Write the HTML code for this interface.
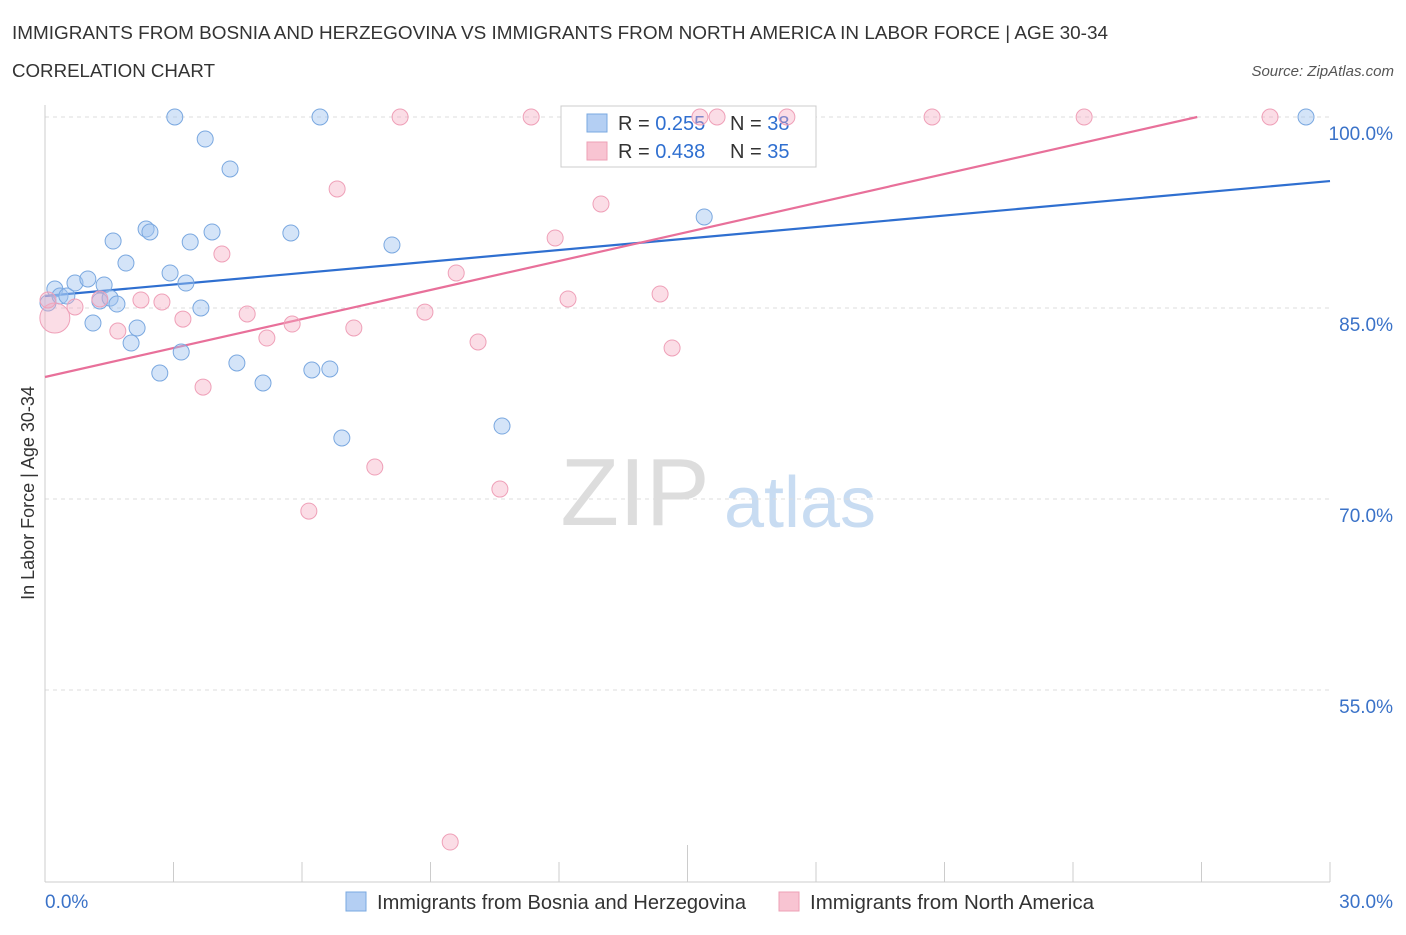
<!DOCTYPE html>
<html><head><meta charset="utf-8"><style>
body{margin:0;background:#fff;font-family:"Liberation Sans",sans-serif;}
svg text{font-family:"Liberation Sans",sans-serif;}
</style></head><body>
<svg id="c" width="1406" height="930" xmlns="http://www.w3.org/2000/svg">
<text x="12" y="39" font-size="18" fill="#333" textLength="1096" lengthAdjust="spacingAndGlyphs">IMMIGRANTS FROM BOSNIA AND HERZEGOVINA VS IMMIGRANTS FROM NORTH AMERICA IN LABOR FORCE | AGE 30-34</text>
<text x="12" y="77" font-size="18" fill="#333" textLength="203" lengthAdjust="spacingAndGlyphs">CORRELATION CHART</text>
<text x="1394" y="76" font-size="15" fill="#555" font-style="italic" text-anchor="end">Source: ZipAtlas.com</text>
<text x="635" y="525" font-size="96" fill="#ddd" font-family="Liberation Serif" text-anchor="middle">ZIP</text>
<text x="800" y="527" font-size="72" fill="#c8dcf2" text-anchor="middle">atlas</text>
<text transform="translate(34,493) rotate(-90)" font-size="18" fill="#333" text-anchor="middle">In Labor Force | Age 30-34</text>
<g id="grid"></g><g id="lines"></g>
<g>
<rect x="561" y="106" width="255" height="61" fill="#fff" stroke="#ccc"/>
<rect x="587" y="114" width="20" height="18" fill="#b4cff3" stroke="#7aa8e0"/>
<text x="618" y="130" font-size="20" fill="#333">R = <tspan fill="#2f6fd0">0.255</tspan></text>
<text x="730" y="130" font-size="20" fill="#333">N = <tspan fill="#2f6fd0">38</tspan></text>
<rect x="587" y="142" width="20" height="18" fill="#f8c4d2" stroke="#eea0b6"/>
<text x="618" y="158" font-size="20" fill="#333">R = <tspan fill="#2f6fd0">0.438</tspan></text>
<text x="730" y="158" font-size="20" fill="#333">N = <tspan fill="#2f6fd0">35</tspan></text>
</g>
<g id="pts"></g>
<g>
<rect x="346" y="892" width="20" height="19" fill="#b4cff3" stroke="#7aa8e0"/>
<text x="377" y="909" font-size="20" fill="#333" textLength="369" lengthAdjust="spacingAndGlyphs">Immigrants from Bosnia and Herzegovina</text>
<rect x="779" y="892" width="20" height="19" fill="#f8c4d2" stroke="#eea0b6"/>
<text x="810" y="909" font-size="20" fill="#333" textLength="284" lengthAdjust="spacingAndGlyphs">Immigrants from North America</text>
</g>
</svg>
<script>
const xTickLabels=["0.0%","30.0%"];
const yTicks=[100,85,70,55];
const blueX=[0.07,0.23,0.35,0.51,0.70,1.00,1.12,1.28,1.38,1.52,1.68,1.59,1.89,2.01,2.15,2.36,2.45,2.68,2.92,3.03,3.18,3.29,3.39,3.64,3.74,3.90,4.32,4.48,5.09,5.74,6.23,6.42,6.65,6.93,8.10,10.67,15.39,29.44];
const blueY=[85.39,86.49,85.94,85.94,86.96,87.28,83.82,85.55,86.81,85.78,85.31,90.26,88.53,82.25,83.43,91.20,90.97,79.89,87.75,100,81.54,86.96,90.18,85.00,98.27,90.97,95.92,80.68,79.11,90.89,80.13,100,80.21,74.79,89.95,75.73,92.15,100];
const pinkX=[0.23,0.70,1.28,1.70,2.24,2.73,3.22,3.69,4.13,4.72,5.18,5.77,6.16,6.82,7.21,7.70,8.29,8.87,9.46,9.60,10.11,10.62,11.35,11.91,12.21,12.98,14.36,14.64,15.29,15.69,17.32,20.71,24.26,28.60,0.07];
const pinkY=[84.21,85.08,85.71,83.19,85.63,85.47,84.13,78.79,89.24,84.53,82.64,83.74,69.05,94.35,83.43,72.51,100,84.68,43.06,87.75,82.33,70.78,100,90.50,85.71,93.17,86.10,81.86,100,100,100,100,100,100,85.63];
const pinkSize=[2,1,1,1,1,1,1,1,1,1,1,1,1,1,1,1,1,1,1,1,1,1,1,1,1,1,1,1,1,1,1,1,1,1,1];
const blueTrend=[85.94,94.97];
const pinkTrend=[79.58,100.0];
const NS="http://www.w3.org/2000/svg";
const X=v=>45+v/30*1285;
const Y=v=>117+(100-v)*12.733;
function mk(tag,attrs,parent){const e=document.createElementNS(NS,tag);for(const k in attrs)e.setAttribute(k,attrs[k]);document.getElementById(parent).appendChild(e);return e;}
yTicks.forEach(t=>{
  const l=mk('line',{x1:45,x2:1330,y1:Y(t),y2:Y(t),stroke:'#ddd','stroke-dasharray':'4,4'},'grid');
  
  
  const tx=mk('text',{x:1393,y:Y(t)+23,'font-size':19,fill:'#3a72c8','text-anchor':'end'},'grid');
  tx.textContent=t.toFixed(1)+'%';
  
  
});
const ax=mk('line',{x1:45,x2:45,y1:105,y2:882,stroke:'#ccc'},'grid');


const bx=mk('line',{x1:45,x2:1330,y1:882,y2:882,stroke:'#ccc'},'grid');


for(let i=0;i<=10;i++){
  const v=i*3;
  const tk=mk('line',{x1:X(v),x2:X(v),y1:(i==5?845:862),y2:882,stroke:'#ccc'},'grid');
  
  
}
[[0,xTickLabels[0],'start',45],[30,xTickLabels[1],'end',1393]].forEach(a=>{
  const tx=mk('text',{x:a[3],y:908,'font-size':19,fill:'#3a72c8','text-anchor':a[2]},'grid');
  tx.textContent=a[1];
  
  
});
const bl=mk('line',{x1:X(0),y1:Y(blueTrend[0]),x2:X(30),y2:Y(blueTrend[1]),stroke:'#2f6fd0','stroke-width':2.2},'lines');


const slope=(pinkTrend[1]-pinkTrend[0])/26.9;
const xe=Math.min(30,(100-pinkTrend[0])/slope);
const pl=mk('line',{x1:X(0),y1:Y(pinkTrend[0]),x2:X(xe),y2:Y(pinkTrend[0]+slope*xe),stroke:'#e8709a','stroke-width':2.2},'lines');


blueX.forEach((x,i)=>{
  const c=mk('circle',{cx:X(x),cy:Y(blueY[i]),r:8,fill:'rgba(160,196,240,0.45)',stroke:'#7aa8e0','stroke-width':1},'pts');
  
  
});
pinkX.forEach((x,i)=>{
  const c=mk('circle',{cx:X(x),cy:Y(pinkY[i]),r:pinkSize[i]>1?15:8,fill:'rgba(245,170,192,0.4)',stroke:'#efa0b8','stroke-width':1},'pts');
  
  
});
</script>
</body></html>
